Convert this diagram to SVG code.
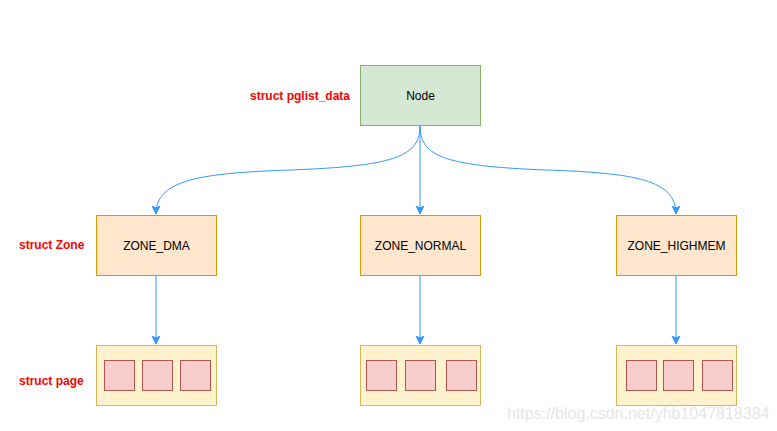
<svg xmlns="http://www.w3.org/2000/svg" width="777" height="431" viewBox="0 0 777 431">
<style>
.lbl{font-family:"Liberation Sans",Arial,sans-serif;font-size:12px;font-weight:bold;fill:#FF0000}
.t{font-family:"Liberation Sans",Arial,sans-serif;font-size:12px;fill:#000;text-anchor:middle}
.node{fill:#D5E8D4;stroke:#82B366}
.zone{fill:#FFE6CC;stroke:#D79B00}
.page{fill:#FFF2CC;stroke:#D6B656}
.pg{fill:#F8CECC;stroke:#B85450}
.e{fill:none;stroke:#3399FF;stroke-width:1}
</style>
<defs>
<marker id="arr" markerWidth="10" markerHeight="10" refX="8" refY="4" orient="auto" markerUnits="userSpaceOnUse">
<path d="M0,0 L8,4 L0,8 L2,4 Z" fill="#3399FF" stroke="#3399FF" stroke-width="1"/>
</marker>
</defs>
<rect width="777" height="431" fill="#fff"/>
<text class="lbl" x="350" y="100" text-anchor="end">struct pglist_data</text>
<text class="lbl" x="19" y="249">struct Zone</text>
<text class="lbl" x="19" y="385">struct page</text>
<g id="connectors">
<path class="e" d="M420,125 C420,155 400,166 290,170 C200,173 156,180 156,214" marker-end="url(#arr)"/>
<path class="e" d="M420,125 L420,214" marker-end="url(#arr)"/>
<path class="e" d="M420,125 C420,155 440,166 546,170 C636,173 676,180 676,214" marker-end="url(#arr)"/>
<path class="e" d="M156,275.5 L156,344" marker-end="url(#arr)"/>
<path class="e" d="M420,275.5 L420,344" marker-end="url(#arr)"/>
<path class="e" d="M676,275.5 L676,344" marker-end="url(#arr)"/>
</g>
<g id="node">
<rect class="node" x="360.5" y="65.5" width="120" height="60"/>
<text class="t" x="420.5" y="100">Node</text>
</g>
<g id="zone_dma">
<rect class="zone" x="96.5" y="215.5" width="120" height="60"/>
<text class="t" x="156.5" y="250">ZONE_DMA</text>
</g>
<g id="zone_normal">
<rect class="zone" x="360.5" y="215.5" width="120" height="60"/>
<text class="t" x="420.5" y="250">ZONE_NORMAL</text>
</g>
<g id="zone_highmem">
<rect class="zone" x="616.5" y="215.5" width="120" height="60"/>
<text class="t" x="676.5" y="250">ZONE_HIGHMEM</text>
</g>
<g id="pages_dma">
<rect class="page" x="96.5" y="345.5" width="120" height="60"/>
<rect class="pg" x="104.5" y="360.5" width="30" height="30"/>
<rect class="pg" x="142.5" y="360.5" width="30" height="30"/>
<rect class="pg" x="180.5" y="360.5" width="30" height="30"/>
</g>
<g id="pages_normal">
<rect class="page" x="360.5" y="345.5" width="120" height="60"/>
<rect class="pg" x="366.5" y="360.5" width="30" height="30"/>
<rect class="pg" x="405.5" y="360.5" width="30" height="30"/>
<rect class="pg" x="446.5" y="360.5" width="30" height="30"/>
</g>
<g id="pages_highmem">
<rect class="page" x="616.5" y="345.5" width="120" height="60"/>
<rect class="pg" x="626.5" y="360.5" width="30" height="30"/>
<rect class="pg" x="663.5" y="360.5" width="30" height="30"/>
<rect class="pg" x="702.5" y="360.5" width="30" height="30"/>
</g>
<text x="507" y="419" font-family="'Liberation Sans',Arial,sans-serif" font-size="16" fill="#e6e6e6">https://blog.csdn.net/yhb1047818384</text>
</svg>
